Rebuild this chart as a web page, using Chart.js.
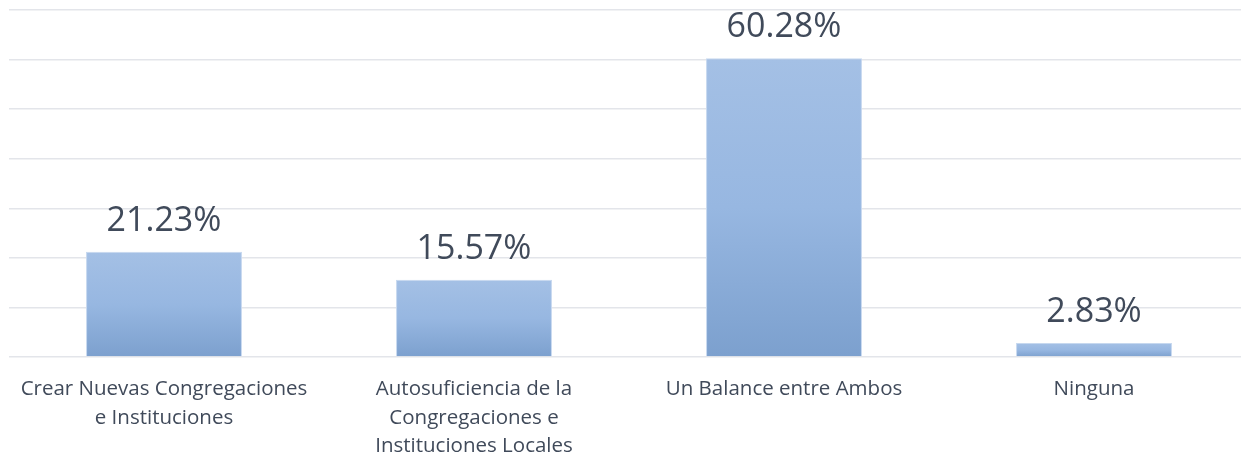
<!DOCTYPE html>
<html>
<head>
<meta charset="utf-8">
<script src="https://cdn.jsdelivr.net/npm/chart.js@4"></script>
<style>
  html, body { margin: 0; padding: 0; background: #fff; overflow: hidden; }
  #wrap { width: 1250px; height: 453px; }
</style>
</head>
<body>
<div id="wrap"><canvas id="myChart" width="1250" height="453"></canvas></div>
<script>
// categories and values
const categories = [
    ['Crear Nuevas Congregaciones', 'e Instituciones'],
    ['Autosuficiencia de la', 'Congregaciones e', 'Instituciones Locales'],
    'Un Balance entre Ambos',
    'Ninguna'
];
const percents = [21.23, 15.57, 60.28, 2.83];
const valueLabels = ['21.23%', '15.57%', '60.28%', '2.83%'];

const textColor = '#404a5a';

// gradient runs over each bar on its own, light on top, darker at the base
function barGradient(ctx) {
    const chart = ctx.chart;
    const y = chart.scales.y;
    if (!y || ctx.type !== 'data') return '#95b5e0';
    const top = y.getPixelForValue(ctx.raw);
    const bottom = y.getPixelForValue(0);
    if (!isFinite(top) || !isFinite(bottom) || top === bottom) return '#95b5e0';
    const g = chart.ctx.createLinearGradient(0, top, 0, bottom);
    g.addColorStop(0, '#a4c0e5');
    g.addColorStop(0.5, '#97b7e1');
    g.addColorStop(1, '#7ca0ce');
    return g;
}

// percentage text above each bar
const valueText = {
    id: 'valueText',
    afterDatasetsDraw(chart) {
        const c = chart.ctx;
        const meta = chart.getDatasetMeta(0);
        c.save();
        c.font = '34px "Open Sans"';
        c.fillStyle = textColor;
        c.textAlign = 'center';
        c.textBaseline = 'alphabetic';
        meta.data.forEach((bar, i) => {
            c.fillText(valueLabels[i], bar.x, bar.y - 21);
        });
        c.restore();
    }
};

const data = {
    labels: categories,
    datasets: [{
        label: 'Porcentaje',
        data: percents,
        backgroundColor: barGradient,
        borderColor: '#c6d8ef',
        borderWidth: 1,
        barPercentage: 1,
        categoryPercentage: 0.503
    }]
};

const config = {
    type: 'bar',
    data: data,
    options: {
        responsive: false,
        animation: false,
        layout: { padding: { left: 9, right: 1, top: 10, bottom: 0 } },
        plugins: {
            legend: { display: false },
            tooltip: { enabled: false }
        },
        scales: {
            x: {
                grid: { display: false },
                border: { display: false },
                afterFit(scale) { scale.height = 96; },
                ticks: {
                    color: textColor,
                    font: { family: 'Open Sans', size: 20.5, lineHeight: 1.39 },
                    padding: 10,
                    maxRotation: 0,
                    autoSkip: false
                }
            },
            y: {
                min: 0,
                max: 70,
                ticks: { display: false, stepSize: 10 },
                border: { display: false },
                grid: { color: '#e3e5ea', lineWidth: 1.5, drawTicks: false }
            }
        }
    },
    plugins: [valueText]
};

new Chart(document.getElementById('myChart'), config);
</script>
</body>
</html>
